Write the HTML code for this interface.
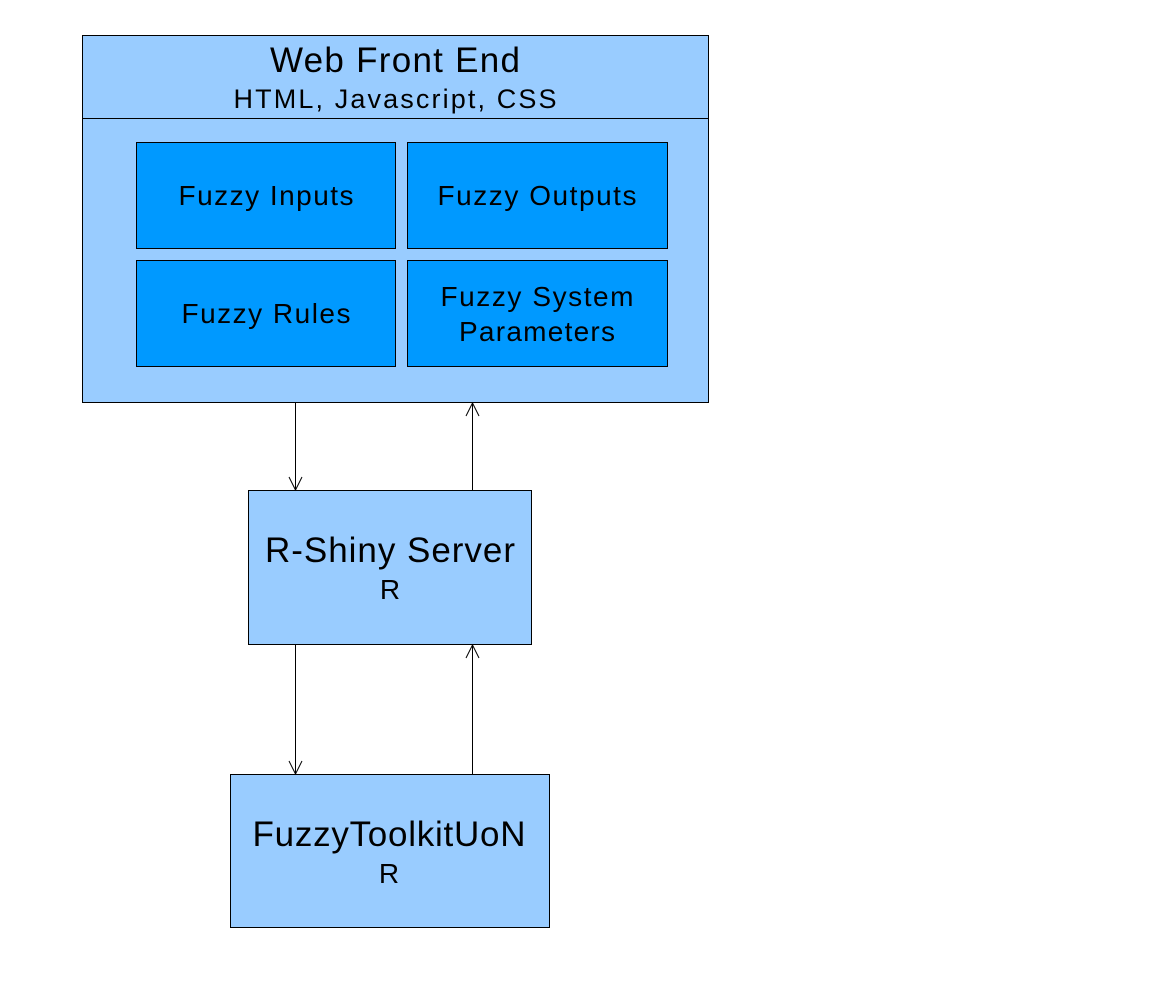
<!DOCTYPE html>
<html><head><style>body{margin:0;background:#fff}</style></head><body>
<svg width="1170" height="981" xmlns="http://www.w3.org/2000/svg" font-family="Liberation Sans, Arial, sans-serif" text-anchor="middle">
<rect x="82.5" y="35.5" width="626" height="367" fill="#99ccff" stroke="#000"/>
<line x1="82" y1="118.5" x2="708" y2="118.5" stroke="#000"/>
<text x="395" y="72" font-size="35" textLength="250" lengthAdjust="spacing">Web Front End</text>
<text x="395" y="108" font-size="27" textLength="323" lengthAdjust="spacing">HTML, Javascript, CSS</text>
<rect x="136.5" y="142.5" width="259" height="106" fill="#0099ff" stroke="#000"/>
<rect x="407.5" y="142.5" width="260" height="106" fill="#0099ff" stroke="#000"/>
<rect x="136.5" y="260.5" width="259" height="106" fill="#0099ff" stroke="#000"/>
<rect x="407.5" y="260.5" width="260" height="106" fill="#0099ff" stroke="#000"/>
<text x="266" y="205" font-size="28" textLength="175" lengthAdjust="spacing">Fuzzy Inputs</text>
<text x="537" y="205" font-size="28" textLength="199" lengthAdjust="spacing">Fuzzy Outputs</text>
<text x="266" y="323" font-size="28" textLength="169" lengthAdjust="spacing">Fuzzy Rules</text>
<text x="537" y="306" font-size="28" textLength="193" lengthAdjust="spacing">Fuzzy System</text>
<text x="537" y="341" font-size="28" textLength="156" lengthAdjust="spacing">Parameters</text>
<rect x="248.5" y="490.5" width="283" height="154" fill="#99ccff" stroke="#000"/>
<text x="390" y="562" font-size="35" textLength="250" lengthAdjust="spacing">R-Shiny Server</text>
<text x="390" y="599" font-size="28">R</text>
<rect x="230.5" y="774.5" width="319" height="153" fill="#99ccff" stroke="#000"/>
<text x="389" y="846" font-size="35" textLength="273" lengthAdjust="spacing">FuzzyToolkitUoN</text>
<text x="389" y="883" font-size="28">R</text>
<g stroke="#000" fill="none" stroke-width="1">
<line x1="295.5" y1="402" x2="295.5" y2="490"/>
<polyline points="289,477 295.5,490 302,477"/>
<line x1="472.5" y1="403" x2="472.5" y2="490"/>
<polyline points="466,416 472.5,403 479,416"/>
<line x1="295.5" y1="644" x2="295.5" y2="774"/>
<polyline points="289,761 295.5,774 302,761"/>
<line x1="472.5" y1="645" x2="472.5" y2="774"/>
<polyline points="466,658 472.5,645 479,658"/>
</g>
</svg>
</body></html>
